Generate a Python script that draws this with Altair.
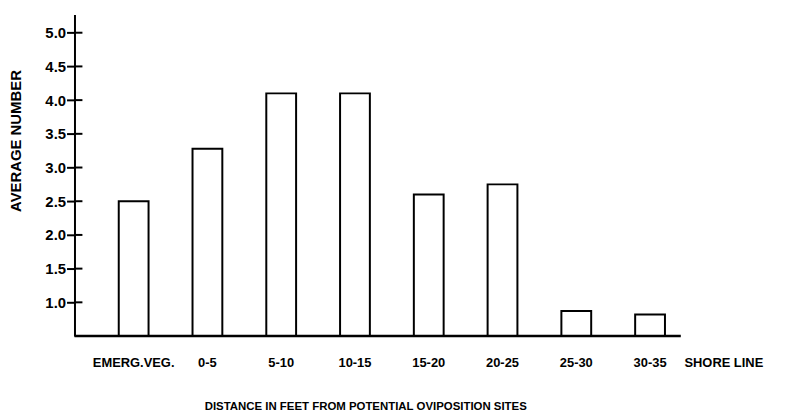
import altair as alt
import pandas as pd

# ---- data ----
categories = ["EMERG.VEG.", "0-5", "5-10", "10-15", "15-20", "20-25", "25-30", "30-35", "SHORE LINE"]
bar_categories = ["EMERG.VEG.", "0-5", "5-10", "10-15", "15-20", "20-25", "25-30", "30-35"]
averages = [2.5, 3.28, 4.1, 4.1, 2.6, 2.75, 0.87, 0.82]
y_ticks = [1.0, 1.5, 2.0, 2.5, 3.0, 3.5, 4.0, 4.5, 5.0]
y_min, y_max = 0.5, 5.27

x_title = "DISTANCE IN FEET FROM POTENTIAL OVIPOSITION SITES"
y_title = "AVERAGE NUMBER"

bars_df = pd.DataFrame({"site": bar_categories, "avg": averages})
ticks_df = pd.DataFrame({"avg": y_ticks})
base_df = pd.DataFrame({"avg": [y_min]})

W, H = 714, 324
FONT = "Liberation Sans, Arial"

x_scale = alt.Scale(domain=categories, paddingInner=0.596, paddingOuter=0.6)
y_scale = alt.Scale(domain=[y_min, y_max], nice=False, zero=False)

y_axis = alt.Axis(title=y_title, values=y_ticks, format=".1f", grid=False,
                  domainColor="black", domainWidth=2, tickColor="black",
                  tickWidth=2, tickSize=8, labelPadding=1, labelFont=FONT,
                  labelFontSize=15, labelFontWeight="bold", labelColor="black",
                  titleFont=FONT, titleFontSize=15, titleFontWeight="bold",
                  titleColor="black", titleX=-59, titleY=127, titleAngle=270,
                  titleAlign="center", titleBaseline="middle")

bars = alt.Chart(bars_df).mark_bar(
    fill="white", stroke="black", strokeWidth=2
).encode(
    x=alt.X("site:N", scale=x_scale, sort=categories,
            axis=alt.Axis(title=x_title, labelAngle=0, domain=False, ticks=True, tickSize=0,
                          labelPadding=21, labelFont=FONT, labelFontSize=13,
                          labelFontWeight="bold", labelColor="black",
                          titleFont=FONT, titleFontSize=11.5, titleFontWeight="bold",
                          titleColor="black", titleX=293, titleY=74,
                          titleAlign="center", titleBaseline="alphabetic")),
    y=alt.Y("avg:Q", scale=y_scale, axis=y_axis),
    y2=alt.datum(y_min),
)

baseline = alt.Chart(base_df).mark_rule(color="black", strokeWidth=2.5).encode(
    y=alt.Y("avg:Q", scale=y_scale, axis=y_axis),
    x=alt.value(0),
    x2=alt.value(611),
)

inner_ticks = alt.Chart(ticks_df).mark_rule(color="black", strokeWidth=2).encode(
    y=alt.Y("avg:Q", scale=y_scale, axis=y_axis),
    x=alt.value(0),
    x2=alt.value(8),
)

chart = alt.layer(bars, baseline, inner_ticks).properties(
    width=W, height=H,
    autosize=alt.AutoSizeParams(type="none"),
    padding={"left": 67, "top": 5, "right": 0, "bottom": 76},
    background="white",
).configure_view(stroke=None)

chart.save("out.html", embed_options={"renderer": "svg", "actions": False})
